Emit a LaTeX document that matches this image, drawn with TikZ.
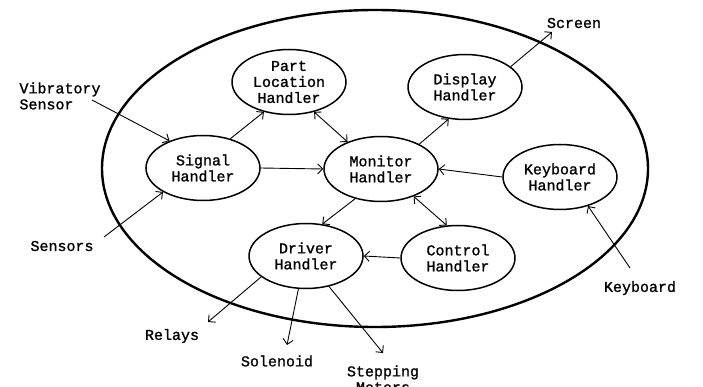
\documentclass[tikz,border=0pt]{standalone}
\usepackage{fontspec}
\setmonofont[FakeBold=1.2]{Liberation Mono}
\usetikzlibrary{arrows.meta,shapes.geometric}
\begin{document}
\begin{tikzpicture}[x=1pt,y=-1pt,
  font=\ttfamily\fontsize{15}{16}\selectfont,
  proc/.style={ellipse,draw,line width=1.5pt,minimum width=114pt,minimum height=65pt,inner sep=0pt,align=center},
  lbl/.style={inner sep=1pt,align=center},
  flow/.style={line width=0.9pt,-{Straight Barb[length=5pt,width=10pt]}},
  both/.style={line width=0.9pt,{Straight Barb[length=5pt,width=10pt]}-{Straight Barb[length=5pt,width=10pt]}}]
\useasboundingbox (0,0) rectangle (703,387);
% system boundary
\draw[line width=2.4pt] (375,168.5) ellipse [x radius=273pt, y radius=158.5pt];
% processes
\node[proc] (pl)  at (289,82)  {Part\\Location\\Handler};
\node[proc] (sig) at (203,168) {Signal\\Handler};
\node[proc] (mon) at (381,169) {Monitor\\Handler};
\node[proc] (dsp) at (465,87)  {Display\\Handler};
\node[proc] (kh)  at (560,177) {Keyboard\\Handler};
\node[proc] (ctl) at (458,258) {Control\\Handler};
\node[proc] (drv) at (306,256) {Driver\\Handler};
% external labels
\node[lbl,align=left] (vs) at (60,96) {Vibratory\\Sensor};
\node[lbl] (sen) at (62,246) {Sensors};
\node[lbl] (scr) at (574,23) {Screen};
\node[lbl] (kb)  at (640,288) {Keyboard};
\node[lbl] (rel) at (172,336) {Relays};
\node[lbl] (sol) at (277,361) {Solenoid};
\node[lbl] (stp) at (383,379) {Stepping\\Motors};
% free ends near labels
\coordinate (vsE)  at (92,100);
\coordinate (senE) at (104,237);
\coordinate (scrE) at (552,32);
\coordinate (kbE)  at (630,268);
\coordinate (relE) at (208,322);
\coordinate (solE) at (287,345);
\coordinate (stpE) at (383,353);
% connectors
\draw[flow] (vsE) -- (sig.141);
\draw[flow] (senE) -- (sig.211);
\draw[flow] (sig.47) -- (pl.230);
\draw[flow] (sig.east) -- (mon.west);
\draw[both] (pl.310) -- (mon.141);
\draw[flow] (mon.33) -- (dsp.243);
\draw[flow] (dsp.24) -- (scrE);
\draw[flow] (kh.west) -- (mon.east);
\draw[flow] (kbE) -- (kh.314);
\draw[flow] (mon.229) -- (drv.63);
\draw[both] (mon.320) -- (ctl.109);
\draw[flow] (ctl.west) -- (drv.east);
\draw[flow] (drv.205) -- (relE);
\draw[flow] (drv.257) -- (solE);
\draw[flow] (drv.307) -- (stpE);
\end{tikzpicture}
\end{document}
